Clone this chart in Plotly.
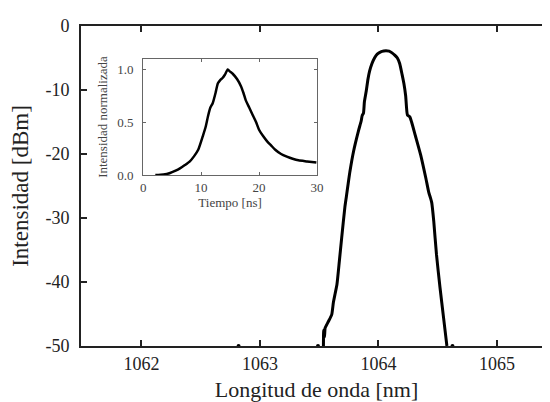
import plotly.graph_objects as go

# Main spectrum (nm, dBm)
wavelength_nm = [1063.536, 1063.538, 1063.545, 1063.55, 1063.56, 1063.58, 1063.606, 1063.62, 1063.635,
                 1063.65, 1063.67, 1063.69, 1063.717, 1063.73, 1063.745, 1063.76, 1063.79, 1063.83,
                 1063.855, 1063.863, 1063.874, 1063.882, 1063.897, 1063.912, 1063.925, 1063.945, 1063.967,
                 1063.99, 1064.02, 1064.045, 1064.064, 1064.09, 1064.115, 1064.14, 1064.16, 1064.18,
                 1064.20, 1064.215, 1064.23, 1064.245, 1064.265, 1064.28, 1064.31, 1064.356, 1064.40,
                 1064.425, 1064.44, 1064.45, 1064.467, 1064.49, 1064.52, 1064.55, 1064.578]
power_dbm = [-50, -47.5, -48.6, -47.2, -46.8, -46.1, -45.1, -43.2, -41.8,
             -40.4, -36.8, -33.1, -28.3, -26.6, -24.6, -22.7, -19.6, -16.5,
             -14.8, -14.0, -13.6, -11.8, -10.2, -8.3, -7.1, -5.9, -5.0,
             -4.4, -4.05, -3.92, -3.88, -3.93, -4.2, -4.6, -5.0, -5.9,
             -7.6, -9.0, -10.9, -13.9, -14.2, -15.0, -17.0, -20.1, -23.75,
             -26.0, -26.9, -27.6, -30.5, -35.7, -40.9, -45.6, -50]

# Noise points touching the floor
floor_nm = [1062.82, 1063.49, 1064.625]
floor_dbm = [-50, -50, -50]

# Inset pulse (ns, normalized)
time_ns = [2.1, 3.5, 4.65, 5.5, 6.35, 7.2, 8.06, 8.8, 9.5, 10.3, 10.8, 11.2, 11.6, 12.0, 12.5, 12.9,
           13.3, 13.7, 14.1, 14.6, 15.0, 15.45, 16.2, 16.9, 17.3, 17.7, 18.3, 18.9, 19.5, 20.0, 20.7,
           21.4, 22.1, 22.8, 23.8, 24.8, 25.8, 26.8, 28.3, 29.9]
intensity_norm = [0.0, 0.005, 0.02, 0.04, 0.064, 0.095, 0.13, 0.18, 0.24, 0.37, 0.46, 0.56, 0.64, 0.68,
                  0.78, 0.87, 0.90, 0.92, 0.95, 1.0, 0.98, 0.96, 0.91, 0.84, 0.78, 0.71, 0.64, 0.57,
                  0.50, 0.43, 0.37, 0.32, 0.28, 0.24, 0.20, 0.175, 0.155, 0.14, 0.13, 0.12]

main_xticks = [1062, 1063, 1064, 1065]
main_xticktext = ["1062", "1063", "1064", "1065"]
main_yticks = [0, -10, -20, -30, -40, -50]
main_yticktext = ["0", "-10", "-20", "-30", "-40", "-50"]
inset_xticks = [0, 10, 20, 30]
inset_xticktext = ["0", "10", "20", "30"]
inset_yticks = [0.0, 0.5, 1.0]
inset_yticktext = ["0.0", "0.5", "1.0"]

FONT = '"Times New Roman", "Liberation Serif", Times, serif'

fig = go.Figure()
fig.add_trace(go.Scatter(x=wavelength_nm, y=power_dbm, mode="lines",
                         line=dict(color="black", width=3, shape="spline", smoothing=0.5),
                         xaxis="x", yaxis="y", showlegend=False, hoverinfo="skip"))
fig.add_trace(go.Scatter(x=floor_nm, y=floor_dbm, mode="markers",
                         marker=dict(color="black", size=4), xaxis="x", yaxis="y",
                         showlegend=False, hoverinfo="skip", cliponaxis=False))
fig.add_trace(go.Scatter(x=time_ns, y=intensity_norm, mode="lines",
                         line=dict(color="black", width=2.5, shape="spline", smoothing=0.6),
                         xaxis="x2", yaxis="y2", showlegend=False, hoverinfo="skip"))
fig.add_trace(go.Scatter(x=[None], y=[None], xaxis="x", yaxis="y3", showlegend=False,
                         hoverinfo="skip"))

fig.update_layout(
    width=550, height=402,
    margin=dict(l=73, r=0, t=18, b=64),
    paper_bgcolor="white", plot_bgcolor="white",
    font=dict(family=FONT, color="#222"),
    xaxis=dict(range=[1061.49, 1065.465], tickvals=main_xticks, ticktext=main_xticktext,
               ticks="inside", ticklen=6, tickwidth=1.5, tickcolor="#222",
               showline=True, linewidth=2, linecolor="#222", mirror="ticks",
               showgrid=False, zeroline=False, tickfont=dict(size=18, family=FONT, color="#222"),
               ticklabelstandoff=0,
               title=dict(text="Longitud de onda [nm]", font=dict(size=22, family=FONT, color="#222"),
                          standoff=9)),
    yaxis=dict(range=[-50, 0], tickvals=main_yticks, ticktext=main_yticktext,
               ticks="inside", ticklen=6, tickwidth=1.5, tickcolor="#222",
               showline=True, linewidth=2, linecolor="#222", mirror=False,
               showgrid=False, zeroline=False, tickfont=dict(size=18, family=FONT, color="#222"),
               ticklabelstandoff=6,
               title=dict(text="Intensidad [dBm]", font=dict(size=23, family=FONT, color="#222"),
                          standoff=10)),
    yaxis3=dict(range=[-50, 0], overlaying="y", side="right", anchor="x",
                tickvals=main_yticks, ticks="inside", ticklen=5, tickwidth=1.5, tickcolor="#222",
                showticklabels=False, showline=False, showgrid=False, zeroline=False),
    xaxis2=dict(domain=[0.132, 0.501], anchor="y2", range=[0, 30],
                tickvals=inset_xticks, ticktext=inset_xticktext,
                ticks="inside", ticklen=3, tickwidth=1, tickcolor="#666",
                showline=True, linewidth=1, linecolor="#666", mirror="ticks",
                showgrid=False, zeroline=False, tickfont=dict(size=13, family=FONT, color="#444"),
                ticklabelstandoff=0,
                title=dict(text="Tiempo [ns]", font=dict(size=13, family=FONT, color="#444"),
                           standoff=0)),
    yaxis2=dict(domain=[0.534, 0.897], anchor="x2", range=[0, 1.1],
                tickvals=inset_yticks, ticktext=inset_yticktext,
                ticks="inside", ticklen=3, tickwidth=1, tickcolor="#666",
                showline=True, linewidth=1, linecolor="#666", mirror="ticks",
                showgrid=False, zeroline=False, tickfont=dict(size=13, family=FONT, color="#444"),
                ticklabelstandoff=6,
                title=dict(text="Intensidad normalizada", font=dict(size=13, family=FONT, color="#444"),
                           standoff=6)),
)

fig.write_html("out.html")
